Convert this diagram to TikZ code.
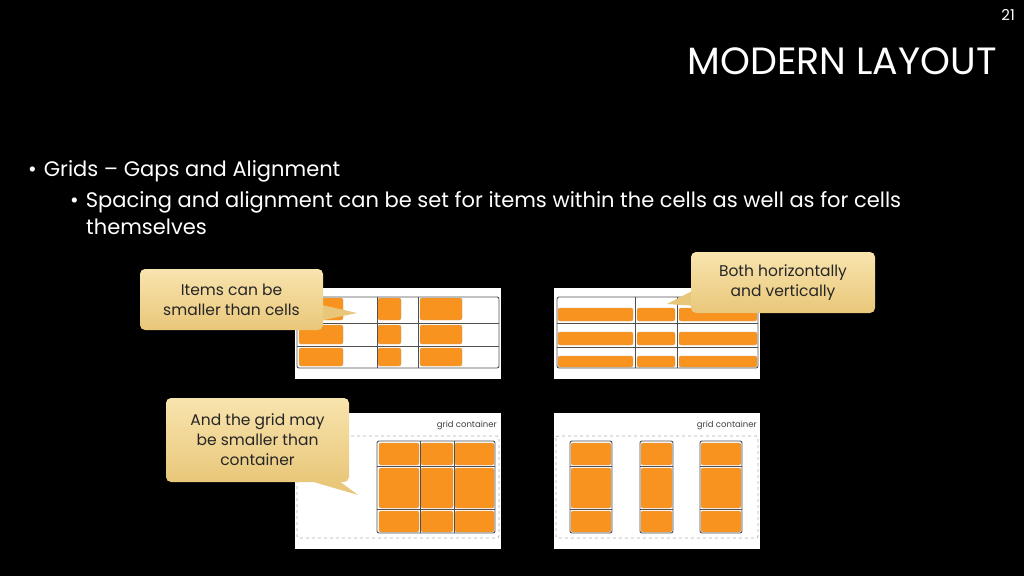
\documentclass[tikz,border=0pt]{standalone}
\usepackage{fontspec}
\setmainfont{Poppins}
\usetikzlibrary{positioning}
\definecolor{itemorange}{HTML}{F7931E}
\definecolor{itemedge}{HTML}{B8661A}
\definecolor{gridline}{HTML}{505050}
\definecolor{calltop}{HTML}{F8E4AE}
\definecolor{callbottom}{HTML}{E9C77A}
\begin{document}
\begin{tikzpicture}[x=1pt,y=-1pt,
		% styles for the slide
		title_text/.style={font=\fontsize{38}{40}\selectfont, text=white, anchor=east, inner sep=0pt},
		body_text/.style={font=\fontsize{21}{25}\selectfont, text=white, anchor=west, inner sep=0pt, align=left},
		call_box/.style={
			rectangle, rounded corners=5pt, top color=calltop, bottom color=callbottom,
			font=\fontsize{15.5}{20}\selectfont, align=center, text=black!85, inner sep=0pt
		},
		call_tail/.style={fill=callbottom},
		shot/.style={fill=white},
		grid_line/.style={draw=gridline, line width=0.9pt, rounded corners=2pt},
		item/.style={fill=itemorange, draw=itemedge!60, line width=0.4pt, rounded corners=2pt},
		box_dash/.style={draw=gray!60, dashed, line width=0.8pt},
		tag_text/.style={font=\fontsize{8.5}{10}\selectfont, text=black!75, anchor=east, inner sep=0pt}
		]
		\fill[black] (0,0) rectangle (1024,576);
		\useasboundingbox (0,0) rectangle (1024,576);
		
		% ----- Header -----
		\node[font=\fontsize{15}{16}\selectfont, text=white, anchor=east, inner sep=0pt] (page_num) at (1015,15) {21};
		\node[title_text] (title) at (997,61) {MODERN LAYOUT};
		\node[body_text] (bullet_a) at (28,171) {•\hspace{7pt}Grids – Gaps and Alignment};
		\node[body_text] (bullet_b) at (70,202) {•\hspace{7pt}Spacing and alignment can be set for items within the cells as well as for cells};
		\node[body_text] (bullet_c) at (86,227) {themselves};
		
		% ----- Shot 1: items smaller than cells -----
		\fill[shot] (295,288) rectangle (501,379);
		\foreach \xa/\xb in {299/343, 378/401, 420/462}
			\foreach \ya/\yb in {298/320, 325/344, 348/366}
				\path[item] (\xa,\ya) rectangle (\xb,\yb);
		\draw[grid_line] (297,297) rectangle (499,368);
		\draw[gridline, line width=0.9pt] (377,297) -- (377,368) (418,297) -- (418,368)
			(297,323) -- (499,323) (297,346) -- (499,346);
		
		% ----- Shot 2: stretched items -----
		\fill[shot] (554,288) rectangle (760,379);
		\foreach \xa/\xb in {558/633, 637/675, 679/757}
			\foreach \ya/\yb in {308/321, 332/345, 356/367}
				\path[item] (\xa,\ya) rectangle (\xb,\yb);
		\draw[grid_line] (557,297) rectangle (758,368);
		\draw[gridline, line width=0.9pt] (635,297) -- (635,368) (677,297) -- (677,368)
			(557,323) -- (758,323) (557,347) -- (758,347);
		
		% ----- Shot 3: grid smaller than container -----
		\fill[shot] (295,413) rectangle (501,549);
		\node[tag_text] (tag_c) at (497,425) {grid container};
		\draw[box_dash, rounded corners=2pt] (297,436) rectangle (499,538);
		\foreach \xa/\xb in {379/419, 421/453, 455/494}
			\foreach \ya/\yb in {443/465, 468/508, 511/532}
				\path[item] (\xa,\ya) rectangle (\xb,\yb);
		\draw[grid_line] (377,441) rectangle (495,533);
		\draw[gridline, line width=0.9pt] (420,441) -- (420,533) (454,441) -- (454,533)
			(377,466) -- (495,466) (377,509) -- (495,509);
		
		% ----- Shot 4: spread tracks -----
		\fill[shot] (554,413) rectangle (760,549);
		\node[tag_text] (tag_d) at (757,425) {grid container};
		\draw[box_dash, rounded corners=2pt] (556,436) rectangle (758,538);
		\foreach \xa/\xb in {570/612, 640/673, 700/742} {
			\foreach \ya/\yb in {443/465, 468/508, 511/532}
				\path[item] (\xa+1,\ya) rectangle (\xb-1,\yb);
			\draw[grid_line] (\xa,441) rectangle (\xb,533);
			\draw[gridline, line width=0.9pt] (\xa,466) -- (\xb,466) (\xa,509) -- (\xb,509);
		}
		
		% ----- Callouts -----
		\coordinate (tip_a) at (357,313);
		\coordinate (tip_b) at (667,304);
		\coordinate (tip_c) at (358,495);
		\fill[call_tail] (300,300) -- (tip_a) -- (300,325) -- cycle;
		\fill[call_tail] (698,288) -- (tip_b) -- (725,308) -- cycle;
		\fill[call_tail] (300,478) -- (tip_c) -- (335,478) -- cycle;
		\node[call_box, minimum width=183pt, minimum height=61pt] (call_a) at (231.5,299.5) {Items can be\\smaller than cells};
		\node[call_box, minimum width=184pt, minimum height=61pt] (call_b) at (783,282.5) {Both horizontally\\and vertically};
		\node[call_box, minimum width=183pt, minimum height=84pt] (call_c) at (257.5,440) {And the grid may\\be smaller than\\container};
		
	\end{tikzpicture}
\end{document}
